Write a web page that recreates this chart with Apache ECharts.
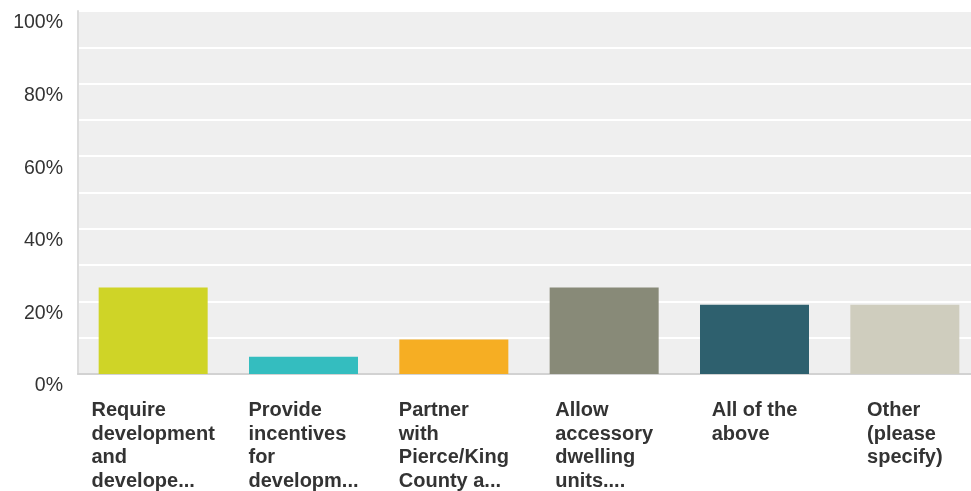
<!DOCTYPE html>
<html>
<head>
<meta charset="utf-8">
<title>Survey responses</title>
<script src="https://cdn.jsdelivr.net/npm/echarts@6/dist/echarts.min.js"></script>
<style>
  html, body { margin: 0; padding: 0; background: #ffffff; }
  #chart { width: 971px; height: 491px; }
</style>
</head>
<body>
<div id="chart"></div>
<script>
// Answer choices (already shortened, one line per array entry)
const categories = [
  ['Require', 'development', 'and', 'develope...'],
  ['Provide', 'incentives', 'for', 'developm...'],
  ['Partner', 'with', 'Pierce/King', 'County a...'],
  ['Allow', 'accessory', 'dwelling', 'units....'],
  ['All of the', 'above'],
  ['Other', '(please', 'specify)']
];

// Share of respondents per choice, in percent
const percentages = [23.81, 4.76, 9.52, 23.81, 19.05, 19.05];

// One colour per choice
const barColors = ['#cfd427', '#34bdbf', '#f6ae23', '#888a78', '#2e606e', '#cfcdbe'];

// Value axis range and labelled ticks
const axisMin = 0;
const axisMax = 100;
const gridStep = 10;
const labelStep = 20;

const chart = echarts.init(document.getElementById('chart'), null, { renderer: 'canvas' });

const fontFamily = '"Liberation Sans", Arial, Helvetica, sans-serif';

chart.setOption({
  backgroundColor: '#ffffff',
  animation: false,
  grid: {
    left: 78,
    right: -9,
    top: 11,
    bottom: 117,
    show: true,
    backgroundColor: '#efefef',
    borderWidth: 0,
    containLabel: false,
    outerBoundsMode: 'none'
  },
  xAxis: {
    type: 'category',
    data: categories.map(lines => lines.join('\n')),
    axisTick: { show: false },
    axisLine: { show: true, lineStyle: { color: '#d2d2d2', width: 2 } },
    splitLine: { show: false },
    axisLabel: {
      interval: 0,
      margin: 25,
      color: '#333333',
      fontFamily: fontFamily,
      fontSize: 20,
      fontWeight: 'bold',
      lineHeight: 23.5,
      verticalAlign: 'top',
      formatter: value => value.split('\n').map(line => '{l|' + line + '}').join('\n'),
      rich: {
        l: {
          align: 'left',
          color: '#333333',
          fontFamily: fontFamily,
          fontSize: 20,
          fontWeight: 'bold',
          lineHeight: 23.5
        }
      }
    }
  },
  yAxis: {
    type: 'value',
    min: axisMin,
    max: axisMax,
    interval: gridStep,
    axisTick: { show: false },
    axisLine: { show: true, lineStyle: { color: '#dcdcdc', width: 2 } },
    splitLine: { show: true, lineStyle: { color: '#ffffff', width: 2 } },
    axisLabel: {
      margin: 15,
      color: '#333333',
      fontFamily: fontFamily,
      fontSize: 19.5,
      lineHeight: 24,
      verticalAlign: 'top',
      formatter: value => (value % labelStep === 0 ? value + '%' : '')
    }
  },
  series: [{
    type: 'bar',
    data: percentages.map((v, i) => ({ value: v, itemStyle: { color: barColors[i] } })),
    barWidth: 109,
    silent: true
  }]
});
</script>
</body>
</html>
